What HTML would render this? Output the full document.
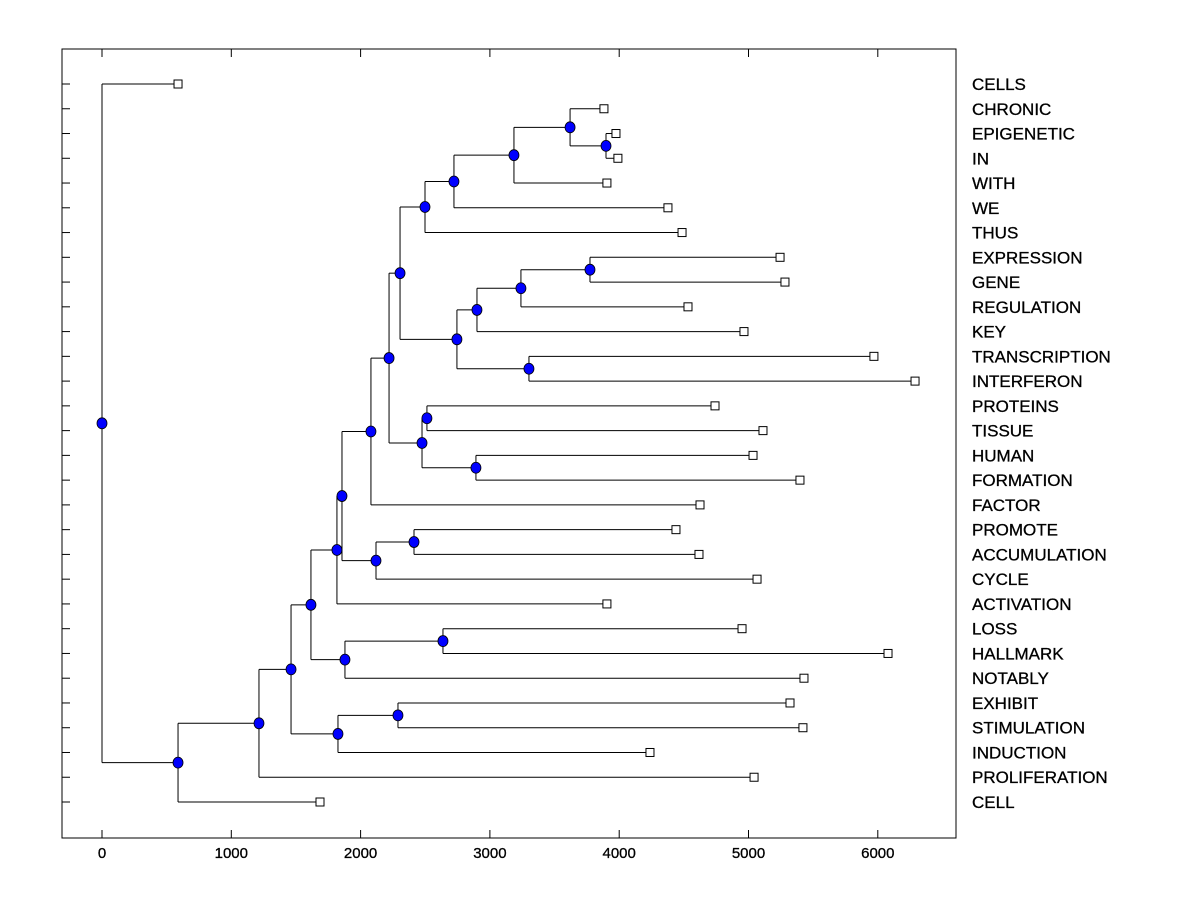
<!DOCTYPE html>
<html><head><meta charset="utf-8"><style>
html,body{margin:0;padding:0;background:#fff;}
svg{display:block;font-family:"Liberation Sans",Arial,sans-serif;}
</style></head><body>
<svg id="chart" width="1200" height="900" viewBox="0 0 1200 900" xmlns="http://www.w3.org/2000/svg">
<rect x="0" y="0" width="1200" height="900" fill="#fff"/>
<g id="plot"></g>
</svg>
<script>
const leaves = ["CELLS","CHRONIC","EPIGENETIC","IN","WITH","WE","THUS","EXPRESSION","GENE","REGULATION","KEY","TRANSCRIPTION","INTERFERON","PROTEINS","TISSUE","HUMAN","FORMATION","FACTOR","PROMOTE","ACCUMULATION","CYCLE","ACTIVATION","LOSS","HALLMARK","NOTABLY","EXHIBIT","STIMULATION","INDUCTION","PROLIFERATION","CELL"];
const leafValues = [588,3882,3975,3990,3905,4377,4486,5244,5282,4532,4965,5970,6288,4741,5112,5035,5398,4625,4439,4617,5066,3905,4950,6079,5429,5321,5421,4238,5043,1686];
const mergeLeft  = [2,1,31,32,33,7,35,36,11,37,34,13,15,41,40,44,18,46,45,48,22,50,49,25,53,52,55,56,0];
const mergeRight = [3,30,4,5,6,8,9,10,12,38,39,14,16,42,43,17,19,20,47,21,23,24,51,26,27,54,28,29,57];
const mergeHeights = [3898,3620,3186,2722,2498,3774,3240,2900,3302,2745,2305,2513,2892,2475,2220,2080,2413,2119,1856,1817,2637,1879,1616,2289,1825,1462,1214,588,0];
const xTicks = [0,1000,2000,3000,4000,5000,6000];

const NS="http://www.w3.org/2000/svg";
const g=document.getElementById('plot');
const L=62,R=956,T=49,B=838;
const xs=v=>102+v*0.1293;
const row0=84,rowStep=(802-84)/29;
const ys=i=>row0+i*rowStep;
function mk(tag,attrs){const e=document.createElementNS(NS,tag);for(const k in attrs)e.setAttribute(k,attrs[k]);g.appendChild(e);return e;}

let fr=mk('rect',{x:L,y:T,width:R-L,height:B-T,fill:'none',stroke:'#000','stroke-width':1});



xTicks.forEach(t=>{
  const x=xs(t);
  let a=mk('line',{x1:x,y1:B,x2:x,y2:B-8,stroke:'#000'});
  
  
  let b=mk('line',{x1:x,y1:T,x2:x,y2:T+8,stroke:'#000'});
  
  
  let tx=mk('text',{x:x,y:858,'text-anchor':'middle','font-size':15,fill:'#000',stroke:'#000','stroke-width':0.3});
  tx.textContent=t;
  
  
});

const nx=[],ny=[];
leaves.forEach((n,i)=>{nx[i]=leafValues[i];ny[i]=ys(i);});
mergeHeights.forEach((h,k)=>{
  const id=leaves.length+k,a=mergeLeft[k],b=mergeRight[k];
  nx[id]=h;ny[id]=(ny[a]+ny[b])/2;
});
mergeHeights.forEach((h,k)=>{
  const a=mergeLeft[k],b=mergeRight[k],x=xs(h);
  let v=mk('line',{x1:x,y1:ny[a],x2:x,y2:ny[b],stroke:'#000'});
  
  
  [a,b].forEach(c=>{
    let hl=mk('line',{x1:x,y1:ny[c],x2:xs(nx[c]),y2:ny[c],stroke:'#000'});
    
    
  });
});
leaves.forEach((n,i)=>{
  const y=ys(i);
  let tk=mk('line',{x1:L,y1:y,x2:L+8,y2:y,stroke:'#000'});
  
  
  let sq=mk('rect',{x:xs(leafValues[i])-4,y:y-4,width:8,height:8,fill:'#fff',stroke:'#000'});
  
  
  let tx=mk('text',{x:972,y:y+6,'font-size':17,fill:'#000',stroke:'#000','stroke-width':0.3});
  tx.textContent=n;
  
  
});
mergeHeights.forEach((h,k)=>{
  const id=leaves.length+k;
  let c=mk('ellipse',{cx:xs(h),cy:ny[id],rx:5,ry:5.5,fill:'#0000ff',stroke:'#000','stroke-width':0.8});
  
  
});
</script>
</body></html>
